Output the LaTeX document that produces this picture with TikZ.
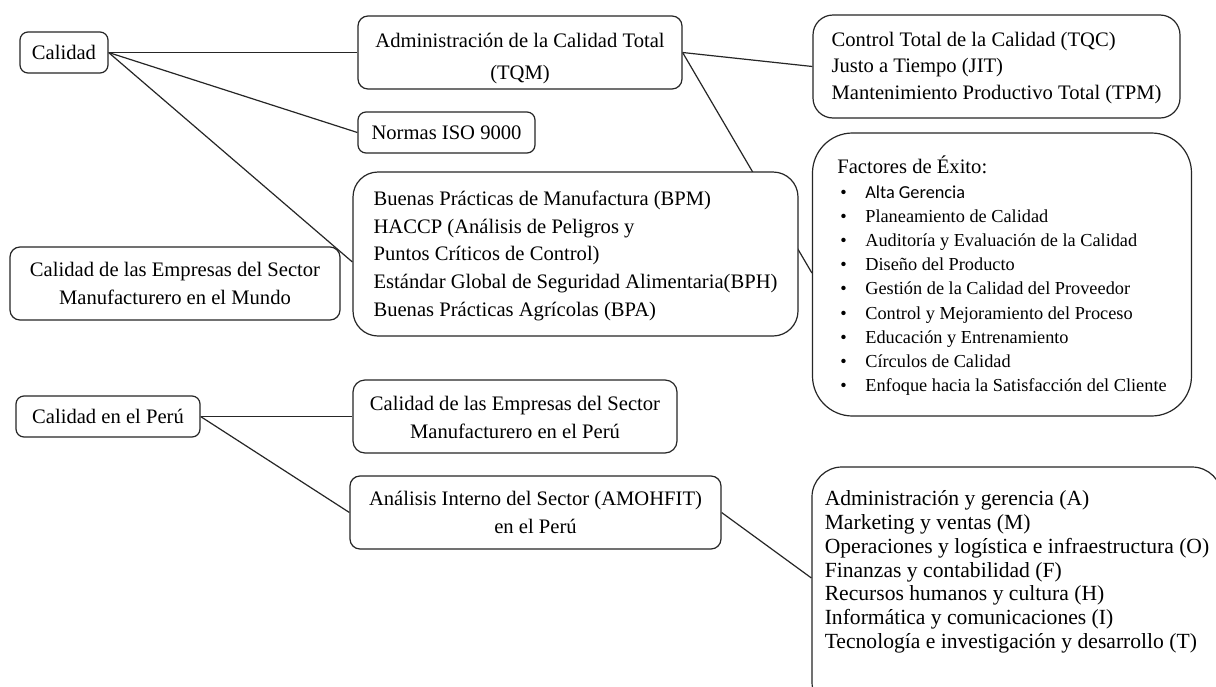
\documentclass[tikz,border=0pt]{standalone}
\usepackage{fontspec}
\setmainfont{Liberation Serif}
\newfontfamily\calibri{Carlito}
\usetikzlibrary{backgrounds}
\newcommand\bul{\hspace*{3pt}\makebox[25pt][l]{\textbullet}}
\newcommand\blk[3]{\raisebox{#1}[0pt][0pt]{\begin{tabular}{@{}#2@{}}#3\end{tabular}}}
\begin{document}
\begin{tikzpicture}[x=1pt,y=-1pt,
  box/.style={draw=black!85, line width=1.2pt, fill=white, rounded corners=8pt,
    inner sep=0pt, align=center, font=\fontsize{20.6}{28}\selectfont},
  link/.style={draw=black!85, line width=1.2pt}]
\useasboundingbox (0,0) rectangle (1216,686);
\clip (0,0) rectangle (1216,686);

\node[box, minimum width=88pt, minimum height=41pt] (calidad) at (64,52.5) {Calidad};
\node[box, minimum width=324pt, minimum height=73pt, rounded corners=10pt,
  font=\fontsize{20.6}{32}\selectfont] (tqm) at (520,52.5)
  {\blk{-9.5pt}{c}{Administración de la Calidad Total\\(TQM)}};
\node[box, minimum width=177pt, minimum height=41pt] (iso) at (446.5,132.5) {Normas ISO 9000};
\node[box, minimum width=445pt, minimum height=164pt, rounded corners=25pt,
  font=\fontsize{20.6}{27.7}\selectfont] (bpm) at (575.5,254)
  {\blk{-6.5pt}{l}{Buenas Prácticas de Manufactura (BPM)\\
   HACCP (Análisis de Peligros y\\
   Puntos Críticos de Control)\\
   Estándar Global de Seguridad Alimentaria(BPH)\\
   Buenas Prácticas Agrícolas (BPA)}};
\node[box, minimum width=367pt, minimum height=103pt, rounded corners=20pt,
  font=\fontsize{20.6}{26.5}\selectfont] (tqc) at (996.5,66.5)
  {\blk{-6pt}{l}{Control Total de la Calidad (TQC)\\
   Justo a Tiempo (JIT)\\
   Mantenimiento Productivo Total (TPM)}};
\node[box, minimum width=379pt, minimum height=283pt, rounded corners=40pt,
  font=\fontsize{18.3}{24.2}\selectfont] (fact) at (1002,274.5)
  {\blk{-7.5pt}{l}{{\fontsize{20.6}{24}\selectfont Factores de Éxito:}\\
   \bul{\calibri Alta Gerencia}\\
   \bul Planeamiento de Calidad\\
   \bul Auditoría y Evaluación de la Calidad\\
   \bul Diseño del Producto\\
   \bul Gestión de la Calidad del Proveedor\\
   \bul Control y Mejoramiento del Proceso\\
   \bul Educación y Entrenamiento\\
   \bul Círculos de Calidad\\
   \bul Enfoque hacia la Satisfacción del Cliente}};
\node[box, minimum width=330pt, minimum height=73pt, rounded corners=10pt] (mundo) at (175,283.5)
  {\blk{-6.5pt}{c}{Calidad de las Empresas del Sector\\Manufacturero en el Mundo}};
\node[box, minimum width=184pt, minimum height=41pt] (peru) at (108,416.5) {Calidad en el Perú};
\node[box, minimum width=324pt, minimum height=73pt, rounded corners=12pt] (emp) at (515,416.5)
  {\blk{-8pt}{c}{Calidad de las Empresas del Sector\\Manufacturero en el Perú}};
\node[box, minimum width=371pt, minimum height=73pt, rounded corners=10pt] (amo) at (535.5,512.5)
  {\blk{-7pt}{c}{Análisis Interno del Sector (AMOHFIT)\\en el Perú}};
\node[box, minimum width=410pt, minimum height=245pt, rounded corners=30pt,
  font=\fontsize{21.6}{23.8}\selectfont] (amohfit) at (1017,589.5)
  {\blk{12pt}{l}{Administración y gerencia (A)\\
   Marketing y ventas (M)\\
   Operaciones y logística e infraestructura (O)\\
   Finanzas y contabilidad (F)\\
   Recursos humanos y cultura (H)\\
   Informática y comunicaciones (I)\\
   Tecnología e investigación y desarrollo (T)}};

\begin{pgfonlayer}{background}
  \fill[white] (0,0) rectangle (1216,686);
  \draw[link] (calidad.east) -- (tqm.west);
  \draw[link] (calidad.east) -- (iso.west);
  \draw[link] (calidad.east) -- ([yshift=-8pt]bpm.west);
  \draw[link] (tqm.east) -- (tqc.west);
  \draw[link] (tqm.east) -- ([yshift=1.5pt]fact.west);
  \draw[link] (peru.east) -- (emp.west);
  \draw[link] (peru.east) -- (amo.west);
  \draw[link] (amo.east) -- ([yshift=11.5pt]amohfit.west);
\end{pgfonlayer}
\end{tikzpicture}
\end{document}
